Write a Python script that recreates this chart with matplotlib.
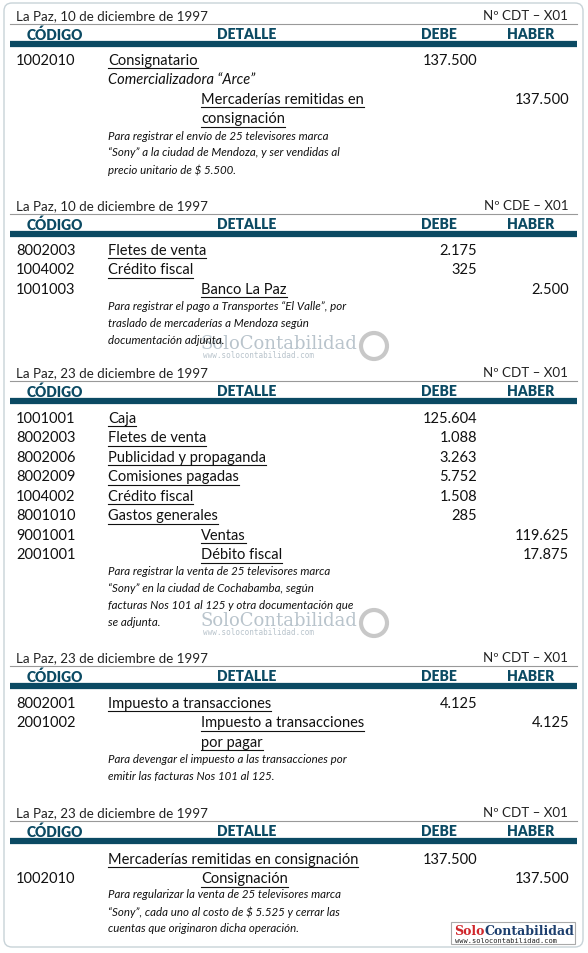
import matplotlib
matplotlib.use("Agg")
import matplotlib.pyplot as plt
from matplotlib.patches import FancyBboxPatch

FONT = "Lato"
NAVY = "#0b4a63"

dates = ["La Paz, 10 de diciembre de 1997", "La Paz, 10 de diciembre de 1997",
         "La Paz, 23 de diciembre de 1997", "La Paz, 23 de diciembre de 1997",
         "La Paz, 23 de diciembre de 1997"]
refs = ["Nº CDT – X01", "Nº CDE – X01", "Nº CDT – X01", "Nº CDT – X01", "Nº CDT – X01"]
headers = ["CÓDIGO", "DETALLE", "DEBE", "HABER"]

rows = [
    [("1002010", "Consignatario", "137.500", "", "d"),
     ("", "Comercializadora “Arce”", "", "", "i"),
     ("", "Mercaderías remitidas en", "", "137.500", "c"),
     ("", "consignación", "", "", "c")],
    [("8002003", "Fletes de venta", "2.175", "", "d"),
     ("1004002", "Crédito fiscal", "325", "", "d"),
     ("1001003", "Banco La Paz", "", "2.500", "c")],
    [("1001001", "Caja", "125.604", "", "d"),
     ("8002003", "Fletes de venta", "1.088", "", "d"),
     ("8002006", "Publicidad y propaganda", "3.263", "", "d"),
     ("8002009", "Comisiones pagadas", "5.752", "", "d"),
     ("1004002", "Crédito fiscal", "1.508", "", "d"),
     ("8001010", "Gastos generales", "285", "", "d"),
     ("9001001", "Ventas", "", "119.625", "cp"),
     ("2001001", "Débito fiscal", "", "17.875", "c")],
    [("8002001", "Impuesto a transacciones", "4.125", "", "d"),
     ("2001002", "Impuesto a transacciones", "", "4.125", "c"),
     ("", "por pagar", "", "", "c")],
    [("", "Mercaderías remitidas en consignación", "137.500", "", "d"),
     ("1002010", "Consignación", "", "137.500", "c")],
]
notes = [
    ["Para registrar el envío de 25 televisores marca", "“Sony” a la ciudad de Mendoza, y ser vendidas al", "precio unitario de $ 5.500."],
    ["Para registrar el pago a Transportes “El Valle”, por", "traslado de mercaderías a Mendoza según", "documentación adjunta."],
    ["Para registrar la venta de 25 televisores marca", "“Sony” en la ciudad de Cochabamba, según", "facturas Nos 101 al 125 y otra documentación que", "se adjunta."],
    ["Para devengar el impuesto a las transacciones por", "emitir las facturas Nos 101 al 125."],
    ["Para regularizar la venta de 25 televisores marca", "“Sony”, cada uno al costo de $ 5.525 y cerrar las", "cuentas que originaron dicha operación."],
]

block_top = [16, 206, 373, 658, 813]
row_start = [61, 251, 419, 704, 860]
row_step = 19.5
note_start = [136, 307, 572, 760, 895]
note_step = 17

fig = plt.figure(figsize=(5.88, 9.54), dpi=100)
ax = fig.add_axes([0, 0, 1, 1])
ax.set_xlim(0, 588); ax.set_ylim(954, 0); ax.axis("off")

ax.add_patch(FancyBboxPatch((4, 4), 579, 944, boxstyle="round,pad=0,rounding_size=8",
                            fc="white", ec="#c8d3d8", lw=1, zorder=0.2))

for wy in [347, 624]:
    ax.text(200, wy - 3, "SoloContabilidad", fontsize=13, family="DejaVu Serif", color="#b9c4cc",
            va="center", zorder=0.5)
    ax.text(203, wy + 9, "www.solocontabilidad.com", fontsize=5.5, family="DejaVu Sans Mono",
            color="#b9c4cc", va="center", zorder=0.5)
    ax.add_patch(plt.Circle((374, wy), 13, fc="none", ec="#c8c8c8", lw=3, zorder=0.5))

underl = []
for b in range(5):
    y = block_top[b]
    ax.text(16, y, dates[b], fontsize=9.6, family=FONT, va="center", color="#222")
    ax.text(568, y, refs[b], fontsize=9.6, family=FONT, va="center", ha="right", color="#222")
    ax.plot([10, 577], [y + 8.5, y + 8.5], color="#999", lw=0.8)
    hy = y + 18.5
    for hx, h in zip([55, 247, 439, 531], headers):
        ax.text(hx, hy, h, fontsize=10, family=FONT, weight="heavy", color=NAVY, ha="center", va="center")
    ax.plot([10, 577], [y + 28.5, y + 28.5], color=NAVY, lw=4.5, solid_capstyle="butt")
    for i, (code, det, debe, haber, kind) in enumerate(rows[b]):
        ry = row_start[b] + i * row_step
        if code:
            ax.text(16, ry, code, fontsize=10.5, family=FONT, va="center", color="#111")
        x = 108 if kind in ("d", "i") else 201
        t = ax.text(x, ry, det, fontsize=10.5, family=FONT, va="center", color="#111",
                    style="italic" if kind == "i" else "normal")
        if kind != "i":
            underl.append((t, ry))
        if debe:
            ax.text(477, ry, debe, fontsize=10.5, family=FONT, va="center", ha="right", color="#111")
        if haber:
            ax.text(569, ry, haber, fontsize=10.5, family=FONT, va="center", ha="right", color="#111")
    for j, n in enumerate(notes[b]):
        ax.text(108, note_start[b] + j * note_step, n, fontsize=8.3, family=FONT, style="italic",
                va="center", color="#111")

ax.add_patch(plt.Rectangle((451, 923), 124, 22, fc="white", ec="#aaa", lw=0.8))
t1 = ax.text(454, 932, "Solo", fontsize=9, family="DejaVu Serif", weight="bold", color="#d0262b", va="center")
fig.canvas.draw()
r = fig.canvas.get_renderer()
bb = t1.get_window_extent(r)
ax.text(454 + bb.width + 0.5, 932, "Contabilidad", fontsize=9, family="DejaVu Serif", weight="bold",
        color="#1d3f6e", va="center")
ax.text(455, 941, "www.solocontabilidad.com", fontsize=5, family="DejaVu Sans Mono", color="#222", va="center")

fig.canvas.draw()
for t, ry in underl:
    bb = t.get_window_extent(r)
    ax.plot([bb.x0, bb.x1], [ry + 8, ry + 8], color="#111", lw=0.8)

fig.savefig("out.png", dpi=100)
